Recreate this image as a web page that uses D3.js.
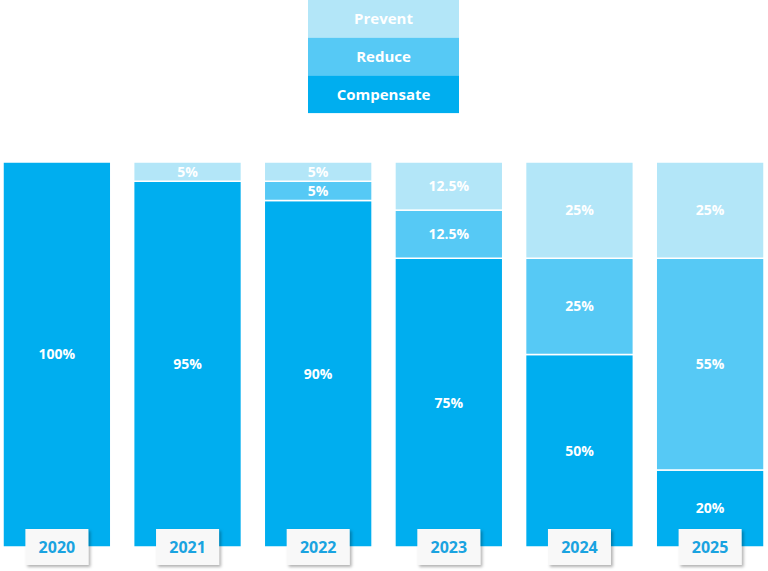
<!DOCTYPE html>
<html><head><meta charset="utf-8">
<script src="https://cdn.jsdelivr.net/npm/d3@7"></script>
<style>body{margin:0;background:#fff;} svg{display:block;font-family:"Open Sans","Noto Sans",sans-serif;}</style>
</head><body>
<svg id="c" width="768" height="571"></svg>
<script>
const years = ["2020","2021","2022","2023","2024","2025"];
const seriesNames = ["Compensate","Reduce","Prevent"];
const compensate = [100, 95, 90, 75, 50, 20];
const reduce = [0, 0, 5, 12.5, 25, 55];
const prevent = [0, 5, 5, 12.5, 25, 25];
const colors = ["#00aeef", "#56c9f5", "#b3e6f8"];

const svg = d3.select("#c");
const data = years.map((y,i)=>({year:y, Compensate:compensate[i], Reduce:reduce[i], Prevent:prevent[i]}));
const stack = d3.stack().keys(seriesNames)(data);

const x = d3.scaleBand().domain(years).range([3, 764]).paddingInner(0.175).paddingOuter(0);
const y = d3.scaleLinear().domain([0,100]).range([547, 162]);
const color = d3.scaleOrdinal().domain(seriesNames).range(colors);

const defs = svg.append("defs");
const f = defs.append("filter").attr("id","sh").attr("x","-20%").attr("y","-20%").attr("width","150%").attr("height","160%");
f.append("feDropShadow").attr("dx",2).attr("dy",2).attr("stdDeviation",1.5).attr("flood-color","#000").attr("flood-opacity",0.3);

const g = svg.append("g");
stack.forEach(layer=>{
  const lg = g.append("g");
  layer.forEach(d=>{
    const v = d[1]-d[0];
    if (v<=0) return;
    lg.append("rect")
      .attr("x", x(d.data.year)).attr("width", x.bandwidth())
      .attr("y", y(d[1])).attr("height", y(d[0])-y(d[1]))
      .attr("fill", color(layer.key))
      .attr("stroke","#fff").attr("stroke-width",1.5);
    lg.append("text")
      .attr("x", x(d.data.year)+x.bandwidth()/2)
      .attr("y", (y(d[0])+y(d[1]))/2)
      .attr("dy","0.35em").attr("text-anchor","middle")
      .attr("fill","#fff").attr("font-weight","bold").attr("font-size",14)
      .text(v+"%");
  });
});
// year label boxes
years.forEach(yr=>{
  const cx = x(yr)+x.bandwidth()/2;
  svg.append("rect").attr("x",cx-31.5).attr("y",529).attr("width",63).attr("height",36)
    .attr("fill","#f8f8f8").attr("filter","url(#sh)");
  svg.append("text").attr("x",cx).attr("y",547).attr("dy","0.36em").attr("text-anchor","middle")
    .attr("fill","#1aa3e0").attr("font-weight","bold").attr("font-size",16).text(yr);
});

// legend
const leg = svg.append("g");
const legOrder = ["Prevent","Reduce","Compensate"];
legOrder.forEach((k,i)=>{
  leg.append("rect").attr("x",308).attr("y",i*37.7).attr("width",151).attr("height",37.7).attr("fill",color(k));
  leg.append("text").attr("x",383.5).attr("y",i*37.7+18.85).attr("dy","0.35em").attr("text-anchor","middle")
    .attr("fill","#fff").attr("font-weight","bold").attr("font-size",15).text(k);
});
</script>
</body></html>
